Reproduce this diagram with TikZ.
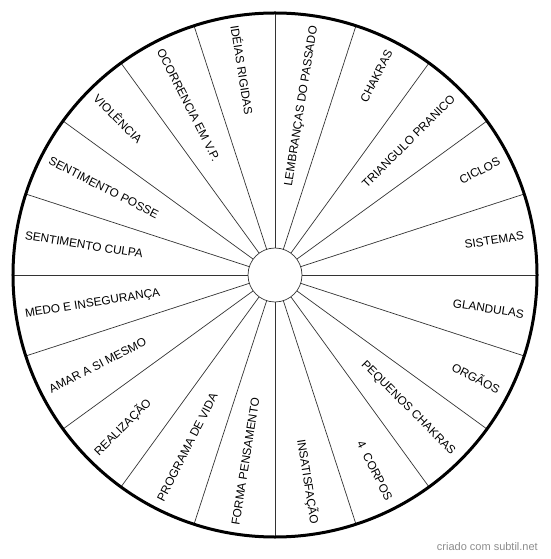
\documentclass[tikz,border=0pt]{standalone}
\usepackage{fontspec}
\setmainfont{Liberation Sans}
\usepackage{tikz}

\begin{document}
\begin{tikzpicture}[x=1pt, y=1pt,
  rim/.style={draw, line width=3pt},
  spoke/.style={draw=black!80, line width=0.7pt},
  lbl/.style={font=\fontsize{11.8}{13}\selectfont, inner sep=0pt}]
  \useasboundingbox (-275,-284) rectangle (275,275);
  \node[spoke, circle, minimum size=54pt, inner sep=0pt] (hub) at (0,0) {};
  \foreach \a in {0,18,...,342}
    \draw[spoke] (hub.\a) -- (\a:262);
  \draw[rim] (0,0) circle (262);
  % right half, read outwards
  \foreach \a/\t in {9/SISTEMAS, 27/CICLOS, 45/TRIANGULO PRANICO, 63/CHAKRAS,
      81/LEMBRANÇAS DO PASSADO, 279/INSATISFAÇÃO, 297/4\ \ CORPOS,
      315/PEQUENOS CHAKRAS, 333/ORGÃOS, 351/GLANDULAS}
    \node[lbl, anchor=east, rotate=\a] (s\a) at (\a:252) {\t};
  % left half, read inwards
  \foreach \a/\t in {99/IDÉIAS RIGIDAS, 117/OCORRENCIA EM V.P., 135/VIOLÊNCIA,
      153/SENTIMENTO POSSE, 171/SENTIMENTO CULPA, 189/MEDO E INSEGURANÇA,
      207/AMAR A SI MESMO, 225/REALIZAÇÃO, 243/PROGRAMA DE VIDA,
      261/FORMA PENSAMENTO}
    \node[lbl, anchor=west, rotate=\a+180] (s\a) at (\a:253) {\t};
  \node[font=\fontsize{11}{12}\selectfont, text=black!45, anchor=east, inner sep=0pt] (mark) at (263,-272) {criado com subtil.net};
\end{tikzpicture}
\end{document}
